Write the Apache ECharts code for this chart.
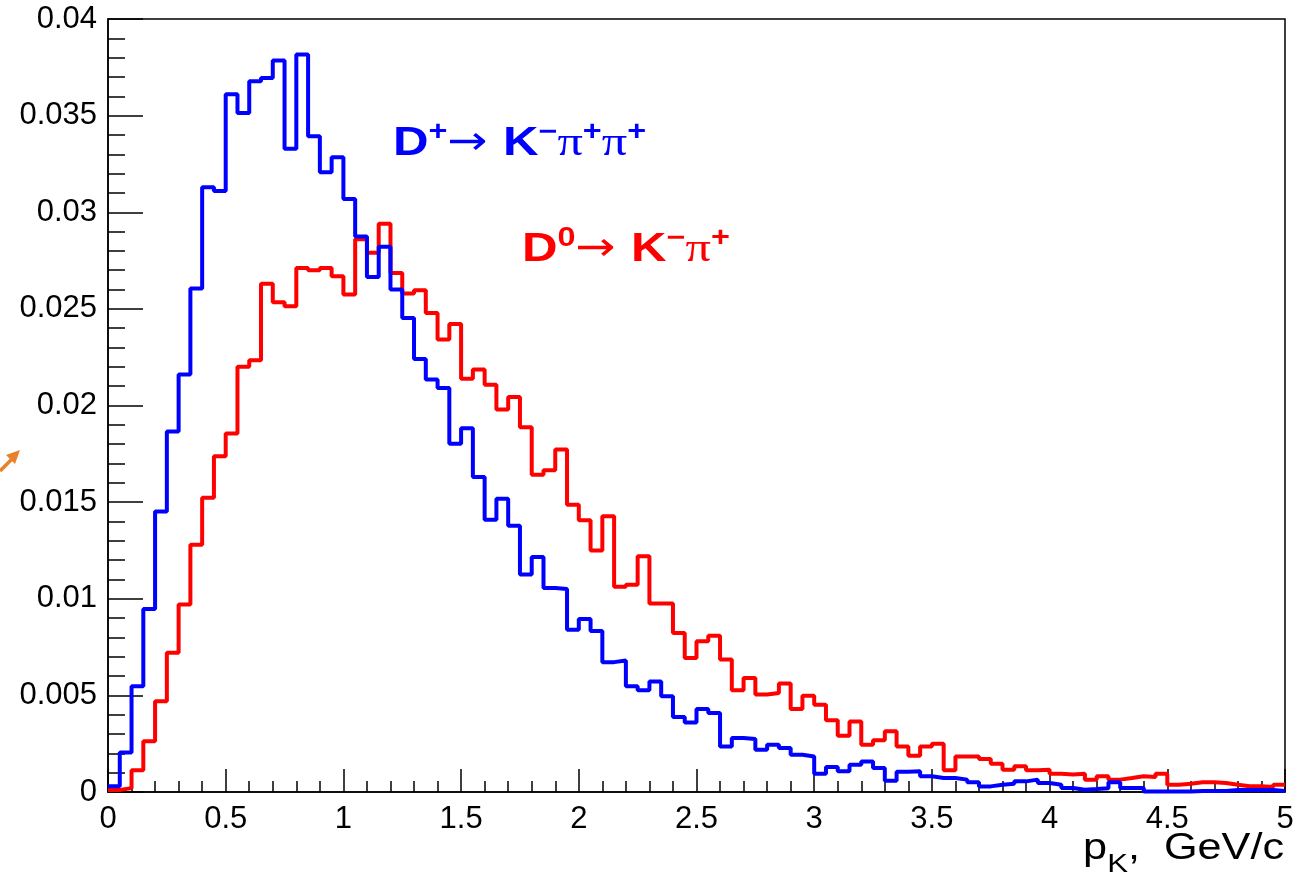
<!DOCTYPE html>
<html>
<head>
<meta charset="utf-8">
<script src="https://cdn.jsdelivr.net/npm/echarts@6/dist/echarts.min.js"></script>
<style>
html,body{margin:0;padding:0;background:#fff;}
#chart{width:1312px;height:888px;}
</style>
</head>
<body>
<div id="chart"></div>
<script>
// Histogram binning: 100 bins of width 0.05 GeV/c from 0 to 5
const X_MIN = 0;
const X_MAX = 5;
const BIN_WIDTH = 0.05;

// D+ -> K- pi+ pi+ (blue), normalized counts per bin
const dplusValues = [
  0.0003, 0.00205, 0.00547, 0.00947, 0.01452, 0.01866, 0.0216, 0.02606, 0.0313, 0.0311,
  0.0361, 0.03514, 0.03678, 0.03695, 0.03785, 0.03328, 0.03816, 0.03393, 0.03207, 0.03285,
  0.03068, 0.02875, 0.02665, 0.02822, 0.026, 0.02453, 0.02241, 0.02134, 0.02091, 0.01802,
  0.01882, 0.0163, 0.01409, 0.01517, 0.01378, 0.01125, 0.01216, 0.01056, 0.01051, 0.0084,
  0.00895, 0.00833, 0.00672, 0.00681, 0.00547, 0.00526, 0.00572, 0.00495, 0.00388, 0.0036,
  0.0043, 0.00409, 0.00236, 0.0028, 0.00274, 0.00219, 0.00245, 0.00228, 0.00193, 0.00184,
  0.00095, 0.00129, 0.00107, 0.00141, 0.00158, 0.00124, 0.00058, 0.00105, 0.00107, 0.00081,
  0.00072, 0.00072, 0.00064, 0.0005, 0.00029, 0.00038, 0.00043, 0.00055, 0.00064, 0.00047,
  0.00038, 0.00021, 0.00012, 0.00015, 0.0002, 0.0005, 0.00021, 0.00021, 0.00003, 0.00003,
  0.00003, 0.00003, 0.00005, 0.00005, 0.00005, 0.0001, 0.0001, 0.0001, 0.0001, 0.00005
];

// D0 -> K- pi+ (red)
const dzeroValues = [
  0.0001, 0.0002, 0.00112, 0.00262, 0.00469, 0.0072, 0.0097, 0.0128, 0.01522, 0.01737,
  0.01855, 0.022, 0.02234, 0.0263, 0.02534, 0.02513, 0.02712, 0.027, 0.02712, 0.02669,
  0.02574, 0.0286, 0.0279, 0.0294, 0.02686, 0.02579, 0.02596, 0.02479, 0.02341, 0.02422,
  0.02138, 0.02186, 0.02108, 0.01979, 0.02044, 0.01888, 0.01642, 0.01665, 0.01772, 0.01487,
  0.01406, 0.0125, 0.01427, 0.01062, 0.01073, 0.0122, 0.00975, 0.00975, 0.00823, 0.00694,
  0.0078, 0.00809, 0.00685, 0.00526, 0.0059, 0.00504, 0.00512, 0.00561, 0.0043, 0.00498,
  0.00452, 0.00371, 0.00291, 0.00365, 0.00245, 0.00268, 0.00314, 0.00236, 0.00188, 0.00236,
  0.0025, 0.00112, 0.00184, 0.00184, 0.00171, 0.00146, 0.00115, 0.00133, 0.00112, 0.00115,
  0.00095, 0.0009, 0.00095, 0.00064, 0.00081, 0.00064, 0.00072, 0.00081, 0.00078, 0.00095,
  0.00038, 0.00043, 0.0005, 0.0005, 0.00047, 0.00038, 0.0003, 0.0003, 0.00026, 0.00038
];

// Axis ranges and tick steps
const Y_MIN = 0;
const Y_MAX = 0.04;
const Y_STEP = 0.005;
const X_STEP = 0.5;

const xTitle = '{p|p}{sub|K}{p|,  GeV/c}';
const labelDplus = '{b|D}{sup|+}{ar|→ }{b|K}{sup|−}{pi|π}{sup|+}{pi|π}{sup|+}';
const labelDzero = '{b|D}{sup|0}{ar|→ }{b|K}{sup|−}{pi|π}{sup|+}';

function stepData(values) {
  const pts = values.map((v, i) => [+(X_MIN + i * BIN_WIDTH).toFixed(4), v]);
  pts.push([X_MAX, values[values.length - 1]]);
  return pts;
}

const FONT = '"Liberation Sans", Arial, Helvetica, sans-serif';
const chart = echarts.init(document.getElementById('chart'), null, {renderer: 'canvas'});

function annRich(color) {
  return {
    b: {fontFamily: FONT, fontWeight: 'bold', fontSize: 41, lineHeight: 50, fill: color},
    sup: {fontFamily: FONT, fontWeight: 'bold', fontSize: 27, lineHeight: 27, verticalAlign: 'top', fill: color},
    ar: {fontFamily: '"DejaVu Sans", sans-serif', fontSize: 40, lineHeight: 50, fill: color},
    pi: {fontFamily: '"Liberation Serif", "DejaVu Serif", serif', fontSize: 42, lineHeight: 50, fill: color}
  };
}

chart.setOption({
  animation: false,
  backgroundColor: '#ffffff',
  grid: {left: 108, right: 27, top: 19, bottom: 96, show: true, borderColor: '#000', borderWidth: 1.5, backgroundColor: 'transparent', outerBoundsMode: 'none'},
  xAxis: {
    type: 'value', min: X_MIN, max: X_MAX, interval: X_STEP,
    axisLine: {show: true, onZero: false, lineStyle: {color: '#000', width: 1.5}},
    axisTick: {show: true, inside: true, length: 23, lineStyle: {color: '#000', width: 1.5}},
    minorTick: {show: true, splitNumber: 5, length: 11, lineStyle: {color: '#000', width: 1.5}},
    splitLine: {show: false},
    axisLabel: {color: '#000', fontSize: 31, fontFamily: FONT, margin: 12}
  },
  yAxis: {
    type: 'value', min: Y_MIN, max: Y_MAX, interval: Y_STEP,
    axisLine: {show: true, onZero: false, lineStyle: {color: '#000', width: 1.5}},
    axisTick: {show: true, inside: true, length: 35, lineStyle: {color: '#000', width: 1.5}},
    minorTick: {show: true, splitNumber: 5, length: 17, lineStyle: {color: '#000', width: 1.5}},
    splitLine: {show: false},
    axisLabel: {color: '#000', fontSize: 31, fontFamily: FONT, margin: 11}
  },
  series: [
    {
      name: 'D0', type: 'line', step: 'end', symbol: 'none', data: stepData(dzeroValues),
      lineStyle: {color: '#ff0000', width: 4}, itemStyle: {color: '#ff0000'}, z: 2
    },
    {
      name: 'D+', type: 'line', step: 'end', symbol: 'none', data: stepData(dplusValues),
      lineStyle: {color: '#0000ff', width: 4}, itemStyle: {color: '#0000ff'}, z: 3
    }
  ],
  graphic: [
    {
      type: 'text', left: 393, top: 119, z: 10, scaleX: 1.2,
      style: {text: labelDplus, rich: annRich('#0000ff')}
    },
    {
      type: 'text', left: 522, top: 225, z: 10, scaleX: 1.2,
      style: {text: labelDzero, rich: annRich('#ff0000')}
    },
    {
      type: 'text', right: 28, top: 831, z: 10, scaleX: 1.2,
      style: {
        text: xTitle,
        rich: {
          p: {fontFamily: FONT, fontSize: 36, lineHeight: 58, fill: '#000'},
          sub: {fontFamily: FONT, fontSize: 26, lineHeight: 20, verticalAlign: 'bottom', fill: '#000'}
        }
      }
    },
    {
      type: 'polyline', z: 10,
      shape: {points: [[0, 471], [12, 459]]},
      style: {stroke: '#e8822a', lineWidth: 3.5, fill: null}
    },
    {
      type: 'polygon', z: 10,
      shape: {points: [[20, 450], [6, 455], [15, 464]]},
      style: {fill: '#e8822a'}
    }
  ]
});
</script>
</body>
</html>
